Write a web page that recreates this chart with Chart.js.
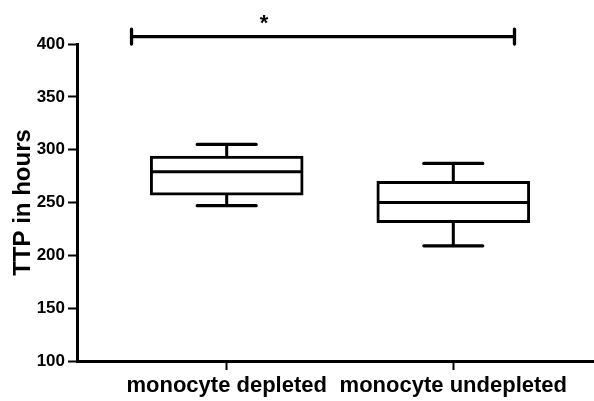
<!DOCTYPE html>
<html>
<head>
<meta charset="utf-8">
<script src="https://cdn.jsdelivr.net/npm/chart.js@4.4.1/dist/chart.umd.min.js"></script>
<style>
  html, body { margin: 0; padding: 0; background: #fff; }
  #wrap { width: 594px; height: 401px; }
</style>
</head>
<body>
<div id="wrap"><canvas id="c" width="594" height="401"></canvas></div>
<script>
// Groups and their five-number summaries (TTP, hours)
const categories  = ['monocyte depleted', 'monocyte undepleted'];
const whiskerLow  = [247, 209];
const quartile1   = [257, 231];
const medians     = [279, 250];
const quartile3   = [294, 270];
const whiskerHigh = [305, 287];

// Y axis tick values
const yTicks = [100, 150, 200, 250, 300, 350, 400];

// Significance bracket between the groups (x in group index units, y in hours)
const sigLabel   = '*';
const sigFrom    = -0.42;
const sigTo      = 1.27;
const sigLevel   = 407;
const sigCapLow  = 400;
const sigCapHigh = 414;
const sigStarX   = 0.165;
const sigStarY   = 419;

const FONT = "'Liberation Sans', Arial, Helvetica, sans-serif";
Chart.defaults.font.family = FONT;
Chart.defaults.color = '#000';

// Medians, whiskers, caps and the significance bracket
const boxWhiskers = {
  id: 'boxWhiskers',
  afterDatasetsDraw(chart) {
    const { ctx, scales: { x, y } } = chart;
    const unit = x.getPixelForValue(1) - x.getPixelForValue(0);
    const boxHalf = unit * 0.331;
    const capHalf = unit * 0.13;
    ctx.save();
    ctx.strokeStyle = '#000';
    ctx.fillStyle = '#000';
    categories.forEach((_, i) => {
      const cx = x.getPixelForValue(i);
      ctx.lineWidth = 3;
      ctx.lineCap = 'butt';
      // median
      ctx.beginPath();
      ctx.moveTo(cx - boxHalf, y.getPixelForValue(medians[i]));
      ctx.lineTo(cx + boxHalf, y.getPixelForValue(medians[i]));
      ctx.stroke();
      // whiskers
      ctx.beginPath();
      ctx.moveTo(cx, y.getPixelForValue(quartile3[i]));
      ctx.lineTo(cx, y.getPixelForValue(whiskerHigh[i]));
      ctx.moveTo(cx, y.getPixelForValue(quartile1[i]));
      ctx.lineTo(cx, y.getPixelForValue(whiskerLow[i]));
      ctx.stroke();
      // caps
      ctx.lineCap = 'round';
      ctx.lineWidth = 3.3;
      ctx.beginPath();
      ctx.moveTo(cx - capHalf, y.getPixelForValue(whiskerHigh[i]));
      ctx.lineTo(cx + capHalf, y.getPixelForValue(whiskerHigh[i]));
      ctx.moveTo(cx - capHalf, y.getPixelForValue(whiskerLow[i]));
      ctx.lineTo(cx + capHalf, y.getPixelForValue(whiskerLow[i]));
      ctx.stroke();
    });
    // significance bracket
    const x0 = x.getPixelForValue(sigFrom);
    const x1 = x.getPixelForValue(sigTo);
    const yl = y.getPixelForValue(sigLevel);
    ctx.lineWidth = 3.3;
    ctx.lineCap = 'round';
    ctx.beginPath();
    ctx.moveTo(x0, yl);
    ctx.lineTo(x1, yl);
    ctx.moveTo(x0, y.getPixelForValue(sigCapLow));
    ctx.lineTo(x0, y.getPixelForValue(sigCapHigh));
    ctx.moveTo(x1, y.getPixelForValue(sigCapLow));
    ctx.lineTo(x1, y.getPixelForValue(sigCapHigh));
    ctx.stroke();
    ctx.font = 'bold 22px ' + FONT;
    ctx.textAlign = 'center';
    ctx.textBaseline = 'middle';
    ctx.fillText(sigLabel, x.getPixelForValue(sigStarX), y.getPixelForValue(sigStarY));
    ctx.restore();
  }
};

new Chart(document.getElementById('c'), {
  type: 'bar',
  data: {
    datasets: [{
      label: 'IQR',
      data: categories.map((_, i) => ({ x: i, y: [quartile1[i], quartile3[i]] })),
      backgroundColor: '#fff',
      borderColor: '#000',
      borderWidth: 3,
      borderSkipped: false,
      barThickness: 153
    }]
  },
  options: {
    responsive: false,
    animation: false,
    events: [],
    layout: { padding: { top: 44, left: 0, right: 0, bottom: 0 } },
    plugins: { legend: { display: false }, tooltip: { enabled: false } },
    scales: {
      x: {
        type: 'linear',
        offset: false,
        min: -0.6606,
        max: 1.6209,
        afterBuildTicks: s => { s.ticks = categories.map((_, i) => ({ value: i })); },
        afterFit: s => { s.height = 40; },
        grid: { offset: false, drawOnChartArea: false, drawTicks: true, tickLength: 9, tickWidth: 2, tickColor: '#000' },
        border: { display: true, width: 3, color: '#000' },
        ticks: {
          color: '#000',
          padding: 3,
          maxRotation: 0,
          autoSkip: false,
          font: { size: 22, weight: 'bold' },
          callback: v => categories[v] ?? ''
        }
      },
      y: {
        min: 100,
        max: 400,
        afterBuildTicks: s => { s.ticks = yTicks.map(v => ({ value: v })); },
        afterFit: s => { s.width = 77; },
        grid: { drawOnChartArea: false, drawTicks: true, tickLength: 9, tickWidth: 2, tickColor: '#000' },
        border: { display: true, width: 3, color: '#000' },
        ticks: { color: '#000', padding: 3, font: { size: 17, weight: 'bold' } },
        title: {
          display: true,
          text: 'TTP in hours',
          color: '#000',
          font: { size: 24, weight: 'bold' },
          padding: { top: 9, bottom: 0 }
        }
      }
    }
  },
  plugins: [boxWhiskers]
});
</script>
</body>
</html>
